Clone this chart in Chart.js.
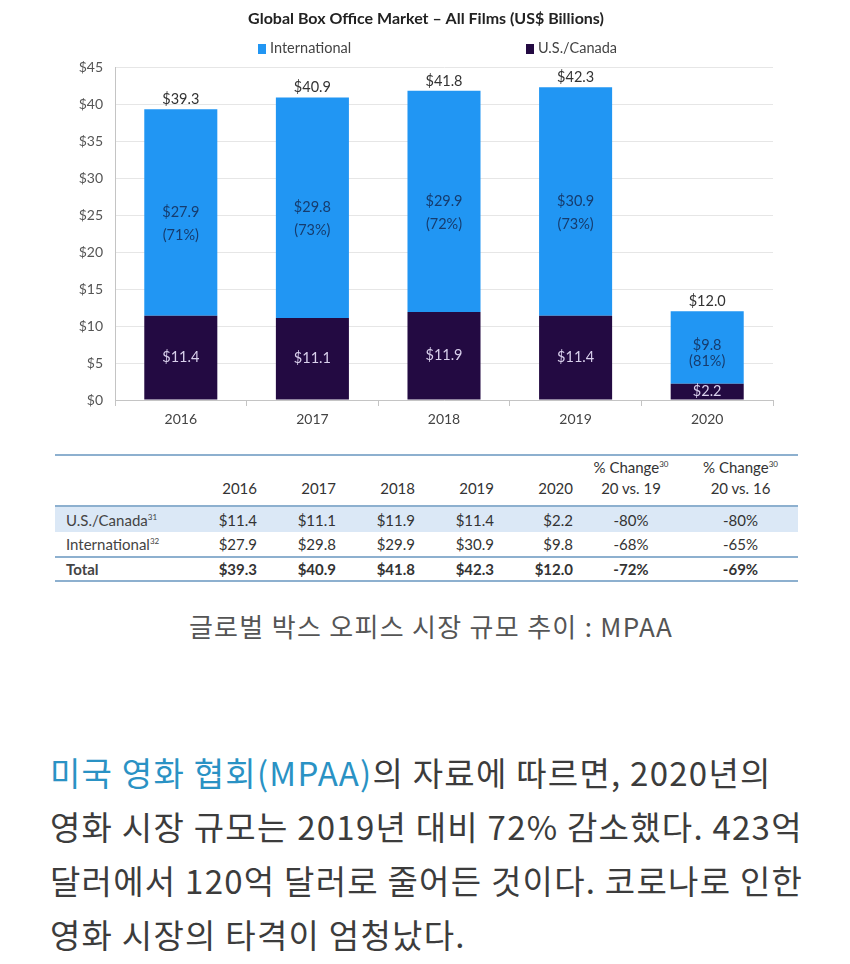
<!DOCTYPE html>
<html>
<head>
<meta charset="utf-8">
<script src="https://cdn.jsdelivr.net/npm/chart.js@4"></script>
<style>
body { margin: 0; background: #fff; width: 850px; height: 964px; position: relative; overflow: hidden; font-family: Lato, "Noto Sans CJK KR", sans-serif; }
#chartBox { position: absolute; left: 0; top: 0; width: 850px; height: 440px; }
.legendItem { position: absolute; top: 39px; font: 14.5px Lato; color: #444; line-height: 18px; white-space: nowrap; }
.legendItem span { display: inline-block; width: 8px; height: 10px; margin-right: 4px; vertical-align: -1px; }
#tableBoxOffice { position: absolute; left: 55px; top: 454px; width: 743px; border-collapse: collapse; table-layout: fixed; font: 15px Lato; color: #333; }
#tableBoxOffice td { padding: 0 6px 0 0; text-align: right; white-space: nowrap; }
#tableBoxOffice td.lbl { text-align: left; padding-left: 11px; color: #444; }
#tableBoxOffice td.pct { text-align: center; padding: 0; }
#tableBoxOffice tr.head td { height: 43px; vertical-align: bottom; padding-bottom: 6px; line-height: 21px; border-top: 2px solid #8db0cf; border-bottom: 2px solid #8db0cf; }
#tableBoxOffice tr.us td { height: 25px; background: #dbe8f6; }
#tableBoxOffice tr.intl td { height: 24px; border-bottom: 2px solid #8db0cf; }
#tableBoxOffice tr.total td { height: 22px; font-weight: bold; border-bottom: 2px solid #8db0cf; }
sup { font-size: 8px; vertical-align: 6px; line-height: 0; }
#caption { position: absolute; left: 6px; width: 850px; top: 609px; text-align: center; font: 26px "Noto Sans CJK KR"; letter-spacing: 1.3px; color: #555; line-height: 34px; }
#story { position: absolute; left: 50px; top: 745px; margin: 0; font: 33px "Noto Sans CJK KR"; letter-spacing: 1.25px; color: #3c3c3c; line-height: 54px; white-space: nowrap; }
#story b { font-weight: normal; color: #2a92c4; }
</style>
</head>
<body>
<div id="chartBox"><canvas id="graphBoxOffice"></canvas></div>
<div id="legend"></div>
<table id="tableBoxOffice"></table>
<div id="caption">글로벌 박스 오피스 시장 규모 추이 : MPAA</div>
<p id="story"><b>미국 영화 협회(MPAA)</b>의 자료에 따르면, 2020년의<br>영화 시장 규모는 2019년 대비 72% 감소했다. 423억<br>달러에서 120억 달러로 줄어든 것이다. 코로나로 인한<br>영화 시장의 타격이 엄청났다.</p>
<script>
const years = ['2016', '2017', '2018', '2019', '2020'];
const usCanada = [11.4, 11.1, 11.9, 11.4, 2.2];
const international = [27.9, 29.8, 29.9, 30.9, 9.8];
const totals = [39.3, 40.9, 41.8, 42.3, 12.0];
const intlShare = [71, 73, 72, 73, 81];
const changeVs19 = [-80, -68, -72];
const changeVs16 = [-80, -65, -69];

const colorUs = '#230a42';
const colorIntl = '#2196F3';

// value labels inside and above the bars
const barLabels = {
    id: 'barLabels',
    afterDatasetsDraw(chart) {
        const ctx = chart.ctx;
        const usBars = chart.getDatasetMeta(0).data;
        const intlBars = chart.getDatasetMeta(1).data;
        ctx.save();
        ctx.textAlign = 'center';
        ctx.textBaseline = 'middle';
        ctx.font = '14.5px Lato';
        usBars.forEach((bar, i) => {
            ctx.fillStyle = '#d9d0ec';
            ctx.fillText('$' + usCanada[i].toFixed(1), bar.x, (bar.y + bar.base) / 2);
        });
        intlBars.forEach((bar, i) => {
            const mid = (bar.y + bar.base) / 2;
            const small = bar.base - bar.y < 100;
            ctx.fillStyle = '#163c6e';
            ctx.fillText('$' + international[i].toFixed(1), bar.x, small ? mid - 2 : mid);
            ctx.fillText('(' + intlShare[i] + '%)', bar.x, small ? mid + 14 : mid + 23);
            ctx.fillStyle = '#333';
            ctx.fillText('$' + totals[i].toFixed(1), bar.x, bar.y - 10);
        });
        ctx.restore();
    }
};

const chart = new Chart(document.getElementById('graphBoxOffice'), {
    type: 'bar',
    data: {
        labels: years,
        datasets: [
            { label: 'U.S./Canada', data: usCanada, backgroundColor: colorUs },
            { label: 'International', data: international, backgroundColor: colorIntl }
        ]
    },
    options: {
        responsive: true,
        maintainAspectRatio: false,
        animation: false,
        layout: { padding: { left: 79, right: 77, top: 0, bottom: 0 } },
        datasets: { bar: { categoryPercentage: 1, barPercentage: 0.555 } },
        plugins: {
            legend: { display: false },
            tooltip: { enabled: false },
            title: {
                display: true,
                text: 'Global Box Office Market \u2013 All Films (US$ Billions)',
                color: '#222',
                font: { family: 'Lato', size: 16, weight: 'bold' },
                padding: { top: 9, bottom: 39 }
            }
        },
        scales: {
            x: {
                stacked: true,
                grid: { offset: true, drawOnChartArea: false, tickLength: 6, color: '#c4c4c4' },
                border: { color: '#c4c4c4' },
                ticks: { color: '#444', font: { family: 'Lato', size: 14 }, padding: 5 },
                afterFit(s) { s.height = 40; }
            },
            y: {
                stacked: true,
                min: 0,
                max: 45,
                grid: { color: '#e6e6e6', drawTicks: false },
                border: { color: '#c4c4c4' },
                ticks: { stepSize: 5, color: '#555', font: { family: 'Lato', size: 14 }, padding: 12, callback: v => '$' + v },
                afterFit(s) { s.width = 36; }
            }
        }
    },
    plugins: [barLabels]
});

// legend: International first, then U.S./Canada
var legend = document.getElementById('legend');
var legendLeft = [258, 526];
[1, 0].forEach((d, k) => {
    var ds = chart.data.datasets[d];
    legend.innerHTML += `<div class="legendItem" style="left:${legendLeft[k]}px"><span style="background:${ds.backgroundColor}"></span>${ds.label}</div>`;
});

// data table
var money = v => '$' + v.toFixed(1);
var table = document.getElementById('tableBoxOffice');
var html = '<colgroup><col style="width:129px">' + years.map(() => '<col style="width:79px">').join('') +
    '<col style="width:104px"><col style="width:115px"></colgroup>';
html += '<tr class="head"><td class="lbl"></td>' + years.map(y => `<td>${y}</td>`).join('') +
    '<td class="pct">% Change<sup>30</sup><br>20 vs. 19</td><td class="pct">% Change<sup>30</sup><br>20 vs. 16</td></tr>';
var rows = [
    ['us', 'U.S./Canada<sup>31</sup>', usCanada],
    ['intl', 'International<sup>32</sup>', international],
    ['total', 'Total', totals]
];
rows.forEach((r, i) => {
    html += `<tr class="${r[0]}"><td class="lbl">${r[1]}</td>` + r[2].map(v => `<td>${money(v)}</td>`).join('') +
        `<td class="pct">${changeVs19[i]}%</td><td class="pct">${changeVs16[i]}%</td></tr>`;
});
table.innerHTML = html;
</script>
</body>
</html>
